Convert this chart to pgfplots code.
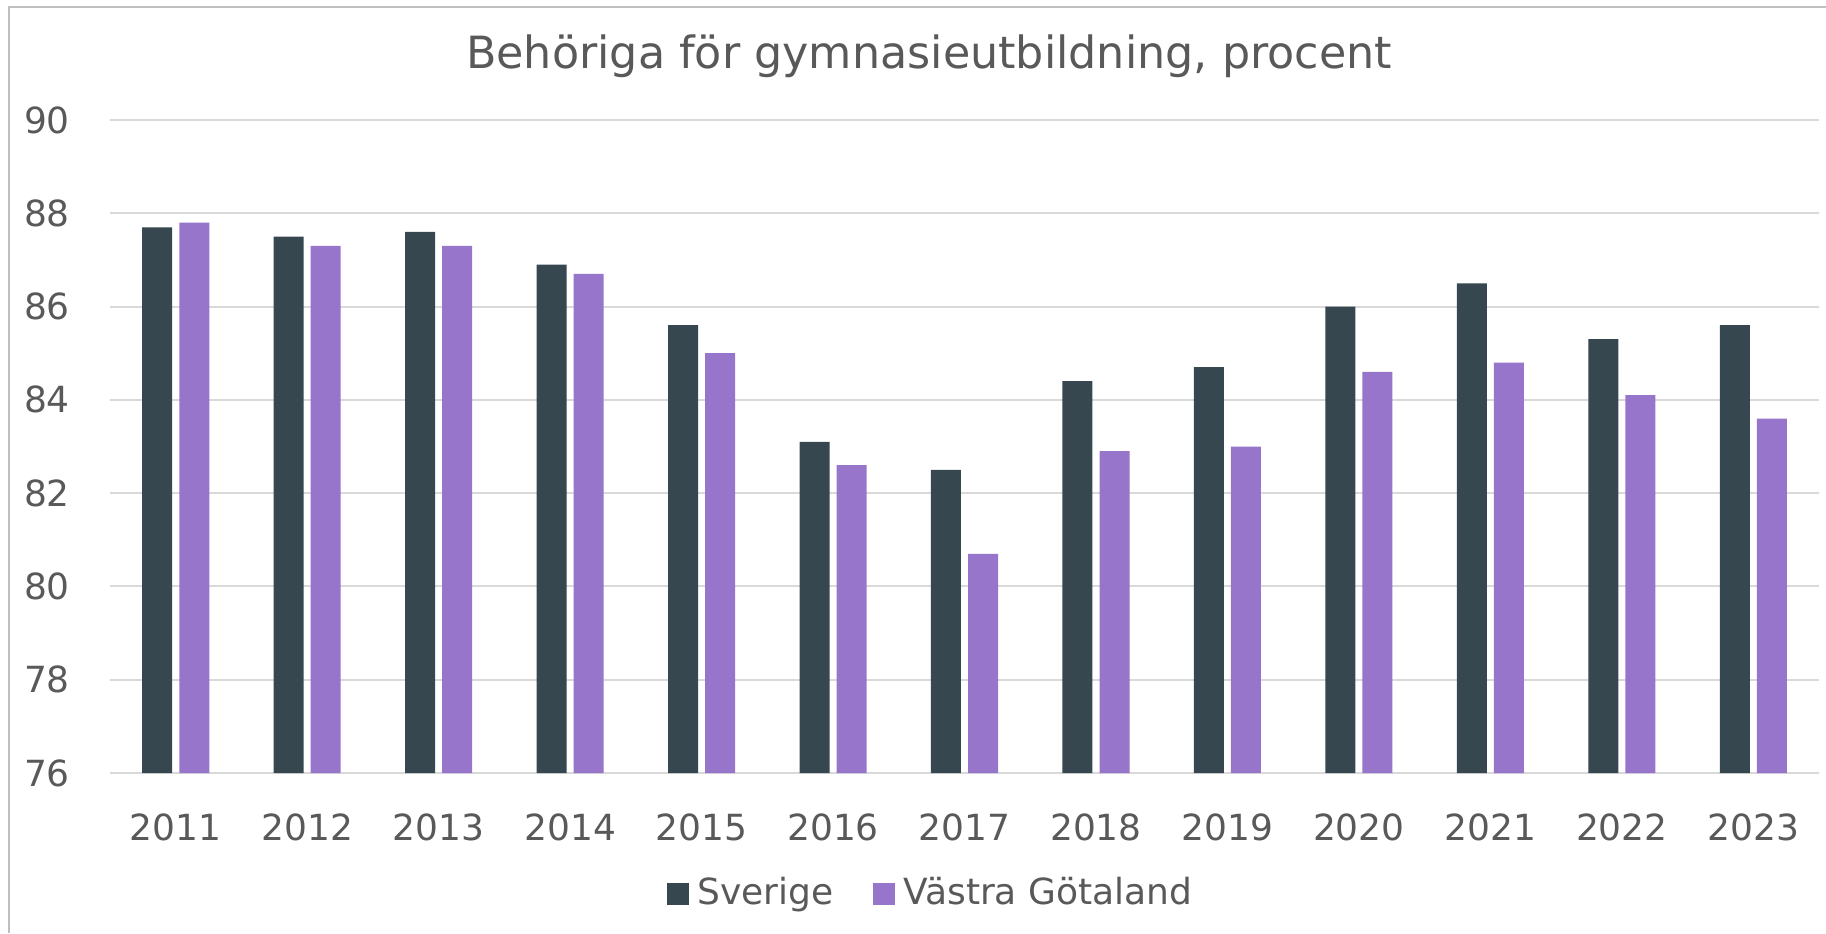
\documentclass[border=0pt]{standalone}
\usepackage{fontspec}
\setmainfont{DejaVu Sans}
\usepackage{pgfplots}
\usepackage{pgfplotstable}
\pgfplotsset{compat=1.18}
\definecolor{sverige}{HTML}{36474F}
\definecolor{vg}{HTML}{9775CB}
\definecolor{txt}{HTML}{595959}
\definecolor{gridgray}{HTML}{D9D9D9}
\definecolor{framegray}{HTML}{BFBFBF}

% year, Sverige, Västra Götaland
\pgfplotstableread{
idx year S VG
0 2011 87.7 87.8
1 2012 87.5 87.3
2 2013 87.6 87.3
3 2014 86.9 86.7
4 2015 85.6 85.0
5 2016 83.1 82.6
6 2017 82.5 80.7
7 2018 84.4 82.9
8 2019 84.7 83.0
9 2020 86.0 84.6
10 2021 86.5 84.8
11 2022 85.3 84.1
12 2023 85.6 83.6
}\data

\begin{document}
\begin{tikzpicture}
\useasboundingbox (0pt,0pt) rectangle (456.5pt,233.25pt);
\draw[framegray, line width=0.5pt] (2.25pt,0pt) -- (2.25pt,231.5pt) -- (456.5pt,231.5pt);
\node[text=txt, font=\fontsize{11.1}{13}\selectfont] at (232.25pt,219.25pt)
  {Behöriga för gymnasieutbildning, procent};
\begin{axis}[
  at={(27.5pt,40pt)}, anchor=south west,
  width=427.25pt, height=163.25pt, scale only axis,
  ybar, bar width=0.228,
  xmin=-0.5, xmax=12.5, ymin=76, ymax=90,
  ytick={76,78,...,90},
  xtick={0,...,12},
  xticklabels from table={\data}{year},
  ymajorgrids, grid style={gridgray, line width=0.5pt},
  axis line style={draw=none},
  tick style={draw=none},
  tick label style={font=\fontsize{9}{11}\selectfont, text=txt},
  /pgf/number format/assume math mode=true,
  yticklabel style={anchor=east, xshift=-6.5pt},
  xticklabel style={anchor=center, yshift=-9.25pt},
  legend style={at={(0.482,-0.185)}, anchor=center, draw=none, fill=none,
    legend columns=-1, font=\fontsize{9}{11}\selectfont, text=txt,
    /tikz/every even column/.append style={column sep=8pt}},
]
\addplot[fill=sverige, draw=none, bar shift=-0.141,
  legend image code/.code={\fill[sverige] (-0.6pt,-2.75pt) rectangle (4.9pt,2.75pt);}]
  table[x=idx, y=S] {\data};
\addplot[fill=vg, draw=none, bar shift=0.141,
  legend image code/.code={\fill[vg] (-0.6pt,-2.75pt) rectangle (4.9pt,2.75pt);}]
  table[x=idx, y=VG] {\data};
\legend{Sverige, Västra Götaland}
\end{axis}
\end{tikzpicture}
\end{document}
